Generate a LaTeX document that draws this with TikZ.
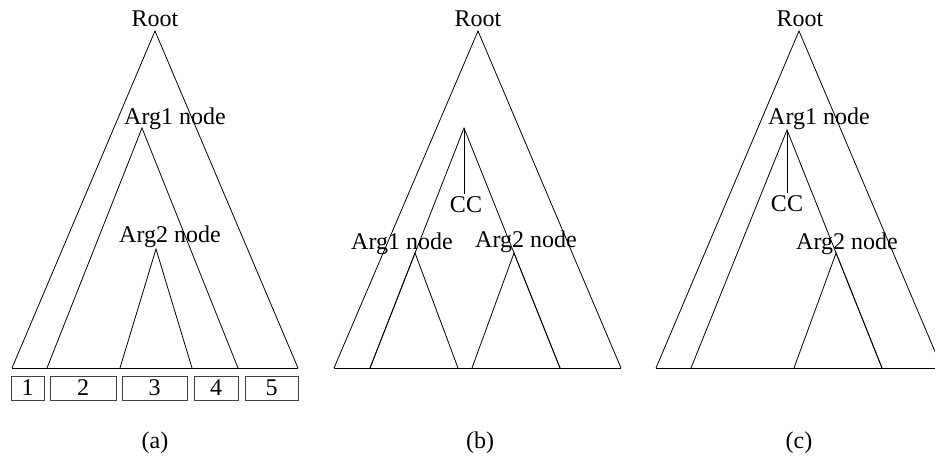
\documentclass[tikz,border=0pt]{standalone}
\usepackage{fontspec}
\setmainfont{Liberation Serif}
\usetikzlibrary{calc}
\tikzset{
	lbl/.style={anchor=base, inner sep=0pt, font=\fontsize{24}{28}\selectfont},
	tri/.style={line width=0.8pt},
	seg/.style={draw=black!75, line width=0.8pt, minimum height=24pt, inner sep=0pt,
		font=\fontsize{24}{28}\selectfont}
}
\begin{document}
\begin{tikzpicture}[x=1pt, y=-1pt]
			\clip(0,0) rectangle (935,457);

			% (a)
			\coordinate (aRoot) at (155,31);
			\coordinate (aL) at (12,368);
			\coordinate (aR) at (298,368);
				\coordinate (a1) at (142,128);
				\coordinate (a1L) at (47,368);
				\coordinate (a1R) at (238,368);
				\coordinate (a2) at (156,249);
				\coordinate (a2L) at (120,368);
				\coordinate (a2R) at (192,368);
			\draw[tri](aL) to (aRoot) to (aR);
			\draw[tri](a1L) to (a1) to (a1R);
			\draw[tri](a2L) to (a2) to (a2R);
			\draw[tri](aL) to (aR);
			\node[lbl] (aRootlbl) at(155,27){Root};
			\node[lbl] (a1lbl) at(175,125){Arg1 node};
			\node[lbl] (a2lbl) at(170,243){Arg2 node};

			\node[seg, minimum width=33pt] (box1) at(27.5,388){1};
			\node[seg, minimum width=66pt] (box2) at(83,388){2};
			\node[seg, minimum width=65pt] (box3) at(154.5,388){3};
			\node[seg, minimum width=44pt] (box4) at(216,388){4};
			\node[seg, minimum width=53pt] (box5) at(271.5,388){5};
			\node[lbl] (capa) at(155,448){(a)};

			% (b)
			\coordinate (bRoot) at (478,31);
			\coordinate (bL) at (334,368);
			\coordinate (bR) at (621,368);
				\coordinate (bCC) at (464,128);
				\coordinate (bCCL) at (370,368);
				\coordinate (bCCR) at (560,368);
				\coordinate (b1) at ($(bCC)!0.5208!(bCCL)$);
				\coordinate (b1R) at (458,368);
				\coordinate (b2) at ($(bCC)!0.5208!(bCCR)$);
				\coordinate (b2L) at (472,368);
			\draw[tri](bL) to (bRoot) to (bR);
			\draw[tri](bCCL) to (bCC) to (bCCR);
			\draw[tri](bCCL) to (b1) to (b1R);
			\draw[tri](b2L) to (b2) to (bCCR);
			\draw[tri](bL) to (bR);
			\node[lbl] (bRootlbl) at(478,27){Root};
			\node[lbl] (bCClbl) at(466,213){CC};
			\draw[tri](bCC) to ([yshift=3pt]bCClbl.north -| bCC);
			\node[lbl] (b1lbl) at(402,250){Arg1 node};
			\node[lbl] (b2lbl) at(526,248){Arg2 node};
			\node[lbl] (capb) at(480,448){(b)};

			% (c)
			\coordinate (cRoot) at (799,31);
			\coordinate (cL) at (656,368);
			\coordinate (cR) at (942,368);
				\coordinate (c1) at (787,130);
				\coordinate (c1L) at (691,368);
				\coordinate (c1R) at (882,368);
				\coordinate (c2) at ($(c1)!0.5168!(c1R)$);
				\coordinate (c2L) at (794,368);
			\draw[tri](cL) to (cRoot) to (cR);
			\draw[tri](c1L) to (c1) to (c1R);
			\draw[tri](c2L) to (c2) to (c1R);
			\draw[tri](cL) to (cR);
			\node[lbl] (cRootlbl) at(800,27){Root};
			\node[lbl] (c1lbl) at(819,125){Arg1 node};
			\node[lbl] (cCClbl) at(787,212){CC};
			\draw[tri](c1) to ([yshift=3pt]cCClbl.north -| c1);
			\node[lbl] (c2lbl) at(847,250){Arg2 node};
			\node[lbl] (capc) at(799,448){(c)};
\end{tikzpicture}
\end{document}
